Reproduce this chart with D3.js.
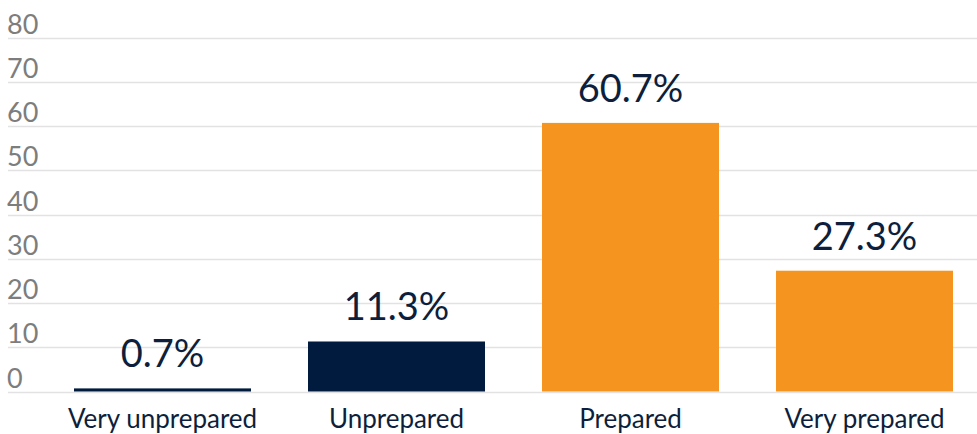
<!DOCTYPE html>
<html>
<head>
<meta charset="utf-8">
<script src="https://cdn.jsdelivr.net/npm/d3@7"></script>
<style>
  html, body { margin: 0; padding: 0; background: #ffffff; }
  svg { display: block; font-family: Lato, "Open Sans", sans-serif; }
</style>
</head>
<body>
<svg id="chart" width="977" height="434"></svg>
<script>
const categories = ["Very unprepared", "Unprepared", "Prepared", "Very prepared"];
const values = [0.7, 11.3, 60.7, 27.3];
const valueLabels = ["0.7%", "11.3%", "60.7%", "27.3%"];
const barColors = ["#001b3d", "#001b3d", "#f5951f", "#f5951f"];
const yTicks = [0, 10, 20, 30, 40, 50, 60, 70, 80];

const svg = d3.select("#chart");
const W = 977, H = 434;

const y = d3.scaleLinear().domain([0, 80]).range([391.5, 37.5]);
const x = d3.scaleBand().domain(categories).range([45.5, 981.5])
  .paddingInner(0.2436).paddingOuter(0.1218);

// gridlines + tick labels
const grid = svg.append("g");
grid.selectAll("line").data(yTicks).join("line")
  .attr("x1", 8).attr("x2", W)
  .attr("y1", d => Math.round(y(d)) + 0.5).attr("y2", d => Math.round(y(d)) + 0.5)
  .attr("stroke", "#e2e2e2").attr("stroke-width", 1.5);
grid.selectAll("text").data(yTicks).join("text")
  .attr("x", 7).attr("y", d => y(d) - 4)
  .attr("fill", "#7d7d7d").attr("font-size", 27)
  .text(d => d);

// bars
svg.append("g").selectAll("rect").data(values).join("rect")
  .attr("x", (d, i) => x(categories[i]))
  .attr("width", x.bandwidth())
  .attr("y", d => y(d))
  .attr("height", d => y(0) - y(d))
  .attr("fill", (d, i) => barColors[i]);

// value labels
svg.append("g").selectAll("text").data(values).join("text")
  .attr("x", (d, i) => x(categories[i]) + x.bandwidth() / 2)
  .attr("y", d => y(d) - 21)
  .attr("text-anchor", "middle")
  .attr("fill", "#0d1f3c").attr("font-size", 38)
  .text((d, i) => valueLabels[i]);

// category labels
svg.append("g").selectAll("text").data(categories).join("text")
  .attr("x", d => x(d) + x.bandwidth() / 2)
  .attr("y", 428)
  .attr("text-anchor", "middle")
  .attr("fill", "#0d1f3c").attr("font-size", 26)
  .text(d => d);
</script>
</body>
</html>
